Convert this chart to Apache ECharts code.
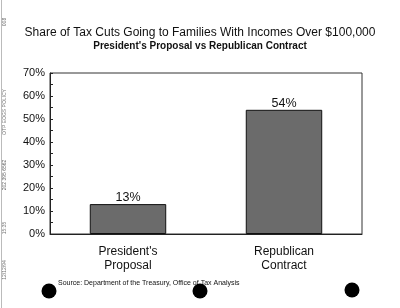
<!DOCTYPE html>
<html>
<head>
<meta charset="utf-8">
<script src="https://cdn.jsdelivr.net/npm/echarts@6/dist/echarts.min.js"></script>
<style>
html,body{margin:0;padding:0;background:#fff;}
#chart{width:400px;height:308px;}
</style>
</head>
<body>
<div id="chart"></div>
<script>
var categories = ["President's\nProposal", "Republican\nContract"];
var shares = [13, 54];
var yTicks = [0, 10, 20, 30, 40, 50, 60, 70];

var titleText = "Share of Tax Cuts Going to Families With Incomes Over $100,000";
var subtitleText = "President's Proposal vs Republican Contract";
var sourceText = "Source: Department of the Treasury, Office of Tax Analysis";

var chart = echarts.init(document.getElementById('chart'), null, {renderer: 'canvas'});
var font = 'Arial, "Liberation Sans", sans-serif';

chart.setOption({
  backgroundColor: '#ffffff',
  animation: false,
  title: [{
    text: titleText,
    left: 'center',
    top: 22,
    textStyle: {fontFamily: font, fontSize: 12, fontWeight: 'normal', color: '#111'}
  }, {
    text: subtitleText,
    left: 'center',
    top: 36,
    textStyle: {fontFamily: font, fontSize: 10, fontWeight: 'bold', color: '#111'}
  }],
  grid: {
    left: 50, right: 38, top: 73, bottom: 74,
    show: true, borderColor: '#333', borderWidth: 1, backgroundColor: 'transparent'
  },
  xAxis: {
    type: 'category',
    data: categories,
    axisLine: {lineStyle: {color: '#222', width: 1}},
    axisTick: {alignWithLabel: true, length: 3, lineStyle: {color: '#222'}},
    axisLabel: {fontFamily: font, fontSize: 12, color: '#111', margin: 11, lineHeight: 14}
  },
  yAxis: {
    type: 'value',
    min: yTicks[0],
    max: yTicks[yTicks.length - 1],
    interval: 10,
    axisLine: {show: true, lineStyle: {color: '#222', width: 1}},
    axisTick: {show: true, inside: true, length: 3, lineStyle: {color: '#222'}},
    minorTick: {show: true, splitNumber: 2, length: 3, lineStyle: {color: '#222'}},
    splitLine: {show: false},
    axisLabel: {fontFamily: font, fontSize: 11, color: '#111', margin: 5, formatter: '{value}%'}
  },
  series: [{
    type: 'bar',
    data: shares,
    barWidth: '49%',
    itemStyle: {color: '#6b6b6b', borderColor: '#111', borderWidth: 1},
    label: {show: true, position: 'top', distance: 0, formatter: '{c}%',
      fontFamily: font, fontSize: 12.5, color: '#111'}
  }],
  graphic: [
    {type: 'text', left: 58, top: 280, style: {text: sourceText, font: '7px ' + font, fill: '#111'}},
    {type: 'circle', shape: {cx: 49, cy: 291, r: 7.5}, style: {fill: '#000'}},
    {type: 'circle', shape: {cx: 200, cy: 291, r: 7.5}, style: {fill: '#000'}},
    {type: 'circle', shape: {cx: 352, cy: 290, r: 7.5}, style: {fill: '#000'}},
    {type: 'line', shape: {x1: 1.5, y1: 0, x2: 1.5, y2: 308}, style: {stroke: '#bbb', lineWidth: 1}},
    {type: 'text', x: 5, y: 22, rotation: Math.PI / 2,
      style: {text: '008', font: '5px ' + font, fill: '#666', align: 'center', verticalAlign: 'middle'}},
    {type: 'text', x: 5, y: 112, rotation: Math.PI / 2,
      style: {text: 'OTP EOGS POLICY', font: '5px ' + font, fill: '#777', align: 'center', verticalAlign: 'middle'}},
    {type: 'text', x: 5, y: 175, rotation: Math.PI / 2,
      style: {text: '202 395 6562', font: '5px ' + font, fill: '#666', align: 'center', verticalAlign: 'middle'}},
    {type: 'text', x: 5, y: 228, rotation: Math.PI / 2,
      style: {text: '15:35', font: '5px ' + font, fill: '#777', align: 'center', verticalAlign: 'middle'}},
    {type: 'text', x: 5, y: 270, rotation: Math.PI / 2,
      style: {text: '12/12/94', font: '5px ' + font, fill: '#777', align: 'center', verticalAlign: 'middle'}}
  ]
});
</script>
</body>
</html>
